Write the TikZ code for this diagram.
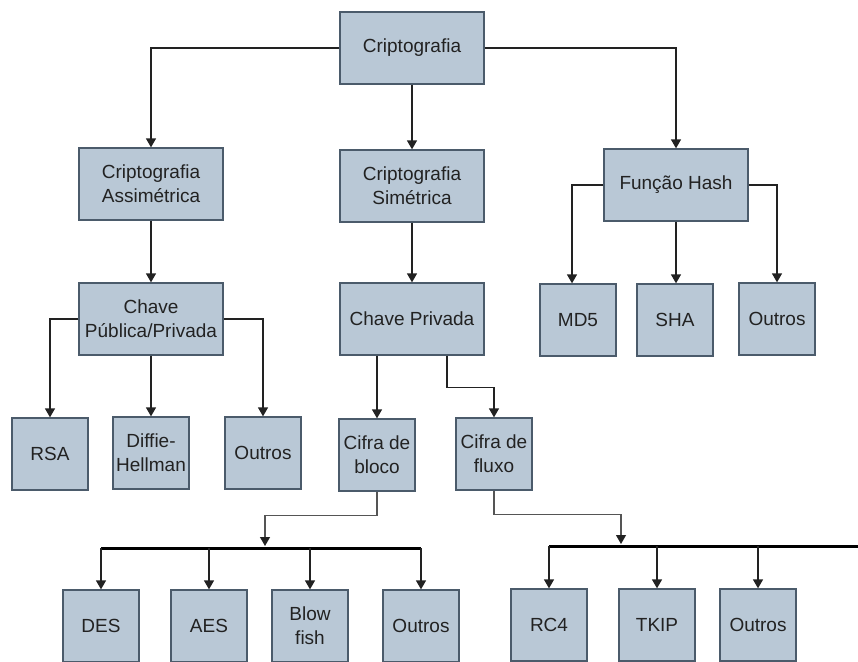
\documentclass[tikz,border=0pt]{standalone}
\usepackage{fontspec}
\setmainfont{Liberation Sans}
\usetikzlibrary{arrows.meta}
\definecolor{boxfill}{HTML}{B9C8D6}
\definecolor{boxline}{HTML}{4B5B6B}
\definecolor{txt}{HTML}{222222}
\definecolor{wire}{HTML}{222222}
\definecolor{softwire}{HTML}{555555}
\tikzset{
  box/.style={draw=boxline, fill=boxfill, line width=1.3pt, inner sep=0pt,
    align=center, text=txt, font=\fontsize{19}{24}\selectfont},
  wide/.style={box, minimum width=144pt, minimum height=72pt},
  leaf/.style={box, minimum width=76pt, minimum height=72pt},
  arr/.style={draw=wire, line width=1.4pt, -{Triangle[length=9pt,width=10pt]}},
  softarr/.style={draw=softwire, line width=1.1pt,
    -{Triangle[length=9pt,width=10pt,color=wire,fill=wire]}},
  bus/.style={draw=black, line width=3pt},
}
\begin{document}
\begin{tikzpicture}[x=1pt,y=-1pt]
\useasboundingbox (0,0) rectangle (858,661);

% upper levels
\node[wide] (root)  at (412,48)  {Criptografia};
\node[wide] (asym)  at (151,184) {Criptografia\\Assimétrica};
\node[wide] (sym)   at (412,186) {Criptografia\\Simétrica};
\node[wide] (hash)  at (676,185) {Função Hash};
\node[wide] (pp)    at (151,319) {Chave\\Pública/Privada};
\node[wide] (priv)  at (412,319) {Chave Privada};

% hash functions
\node[leaf] (md5)  at (578,320) {MD5};
\node[leaf] (sha)  at (675,320) {SHA};
\node[leaf] (outh) at (777,319) {Outros};

% public key algorithms
\node[leaf] (rsa)  at (50,454)  {RSA};
\node[leaf] (dh)   at (151,453) {Diffie-\\Hellman};
\node[leaf] (outp) at (263,453) {Outros};

% ciphers
\node[leaf] (bloco) at (377,455) {Cifra de\\bloco};
\node[leaf] (fluxo) at (494,454) {Cifra de\\fluxo};

% block ciphers
\node[leaf] (des)  at (101,626) {DES};
\node[leaf] (aes)  at (209,626) {AES};
\node[leaf] (blow) at (310,626) {Blow\\fish};
\node[leaf] (outb) at (421,626) {Outros};

% stream ciphers
\node[leaf] (rc4)  at (549,625) {RC4};
\node[leaf] (tkip) at (657,625) {TKIP};
\node[leaf] (outf) at (758,625) {Outros};

% bus bars
\coordinate (bbL) at (101,548);
\coordinate (bbR) at (421,548);
\coordinate (bbIn) at (265,546);
\coordinate (fbL) at (549,546);
\coordinate (fbR) at (860,546);
\coordinate (fbIn) at (621,544);

% connectors
\draw[arr] (root.west) -| (asym.north);
\draw[arr] (root.south) -- (sym.north);
\draw[arr] (root.east) -| (hash.north);
\draw[arr] (asym.south) -- (pp.north);
\draw[arr] (sym.south) -- (priv.north);

\draw[arr] (hash.west) -| ([xshift=-6pt]md5.north);
\draw[arr] (hash.south) -- (hash.south |- sha.north);
\draw[arr] (hash.east) -| (outh.north);

\draw[arr] (pp.west) -| (rsa.north);
\draw[arr] (pp.south) -- (dh.north);
\draw[arr] (pp.east) -| (outp.north);

\draw[arr] (priv.south -| bloco.north) -- (bloco.north);
\draw[arr] ([xshift=35pt]priv.south) -- ++(0,32) -| (fluxo.north);

\draw[softarr] (bloco.south) -- ++(0,24) -| (bbIn);
\draw[softarr] (fluxo.south) -- ++(0,24) -| (fbIn);

\draw[bus] (bbL) -- (bbR);
\draw[bus] (fbL) -- (fbR);

\foreach \n in {des,aes,blow,outb}
  \draw[arr] (\n.north |- bbL) -- (\n.north);
\foreach \n in {rc4,tkip,outf}
  \draw[arr] (\n.north |- fbL) -- (\n.north);
\end{tikzpicture}
\end{document}
